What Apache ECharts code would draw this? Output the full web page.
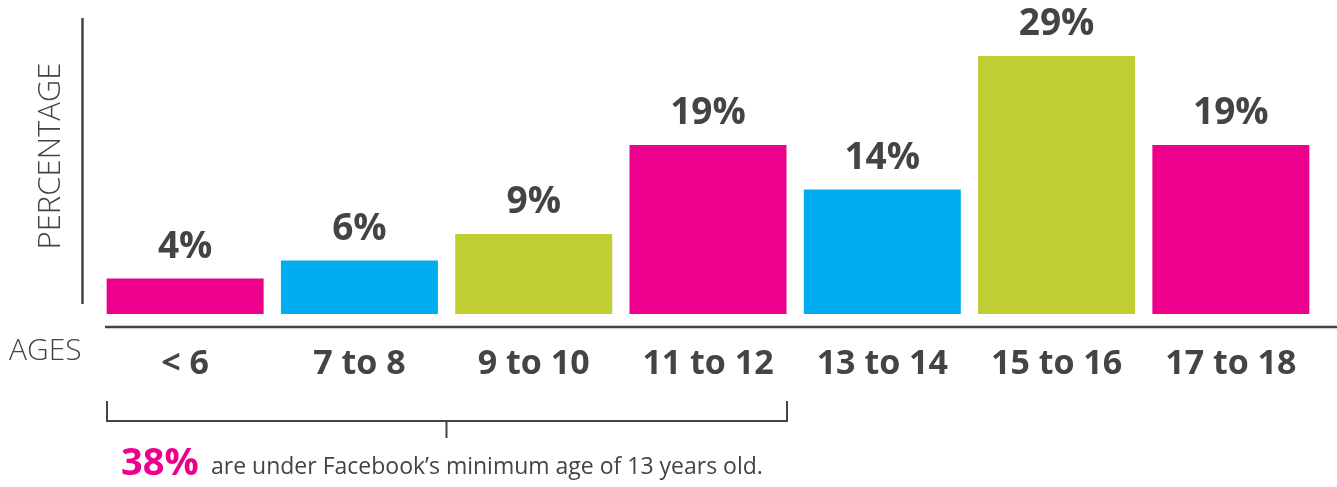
<!DOCTYPE html>
<html lang="en">
<head>
    <meta charset="UTF-8">
    <title>Facebook ages</title>
    <style>
        html, body { margin: 0; padding: 0; background: #fff; }
        #chart { width: 1337px; height: 487px; }
    </style>
</head>
<body>
    <div id="chart"></div>

    <script src="https://cdn.jsdelivr.net/npm/echarts@6/dist/echarts.min.js"></script>
    <script>
        // data
        var ages = ['< 6', '7 to 8', '9 to 10', '11 to 12', '13 to 14', '15 to 16', '17 to 18'];
        var percent = [4, 6, 9, 19, 14, 29, 19];
        var palette = ['#EC008C', '#00AEEF', '#C1CE32', '#EC008C', '#00AEEF', '#C1CE32', '#EC008C'];

        var ink = '#444444';
        var font = '"Open Sans", sans-serif';

        var chart = echarts.init(document.getElementById('chart'));

        var option = {
            animation: false,
            grid: { left: 98, right: 19, top: 47, bottom: 173 },
            xAxis: {
                type: 'category',
                data: ages,
                axisLine: { show: false },
                axisTick: { show: false },
                axisLabel: {
                    color: ink,
                    fontFamily: font,
                    fontWeight: 'bold',
                    fontSize: 34,
                    lineHeight: 34,
                    margin: 33
                }
            },
            yAxis: {
                type: 'value',
                min: 0,
                max: 30,
                show: false
            },
            series: [{
                type: 'bar',
                barWidth: 157,
                data: percent.map(function (v, i) {
                    return { value: v, itemStyle: { color: palette[i] } };
                }),
                label: {
                    show: true,
                    position: 'top',
                    distance: 13,
                    formatter: '{c}%',
                    color: ink,
                    fontFamily: font,
                    fontWeight: 'bold',
                    fontSize: 37,
                    lineHeight: 36
                }
            }],
            graphic: [
                // vertical axis line
                { type: 'line', shape: { x1: 82.5, y1: 18, x2: 82.5, y2: 304 }, style: { stroke: ink, lineWidth: 2.5 } },
                // horizontal axis line
                { type: 'line', shape: { x1: 105, y1: 327, x2: 1337, y2: 327 }, style: { stroke: ink, lineWidth: 2.5 } },
                {
                    type: 'text', x: 51, y: 156, rotation: Math.PI / 2,
                    style: { text: 'PERCENTAGE', fill: ink, font: '300 31px ' + font, align: 'center', verticalAlign: 'middle' }
                },
                {
                    type: 'text', x: 9, y: 351,
                    style: { text: 'AGES', fill: ink, font: '300 30px ' + font, align: 'left', verticalAlign: 'middle' }
                },
                // bracket under the first four groups
                {
                    type: 'polyline',
                    shape: { points: [[107, 401], [107, 421], [787, 421], [787, 401]] },
                    style: { stroke: ink, lineWidth: 2, fill: null }
                },
                { type: 'line', shape: { x1: 446.5, y1: 421, x2: 446.5, y2: 438 }, style: { stroke: ink, lineWidth: 2 } },
                {
                    type: 'text', x: 121, y: 464,
                    style: { text: '38%', fill: '#EC008C', font: 'bold 38px ' + font, align: 'left', verticalAlign: 'middle' }
                },
                {
                    type: 'text', x: 211, y: 467,
                    style: { text: 'are under Facebook\u2019s minimum age of 13 years old.', fill: ink, font: '23px ' + font, align: 'left', verticalAlign: 'middle' }
                }
            ]
        };

        chart.setOption(option);
    </script>
</body>
</html>
